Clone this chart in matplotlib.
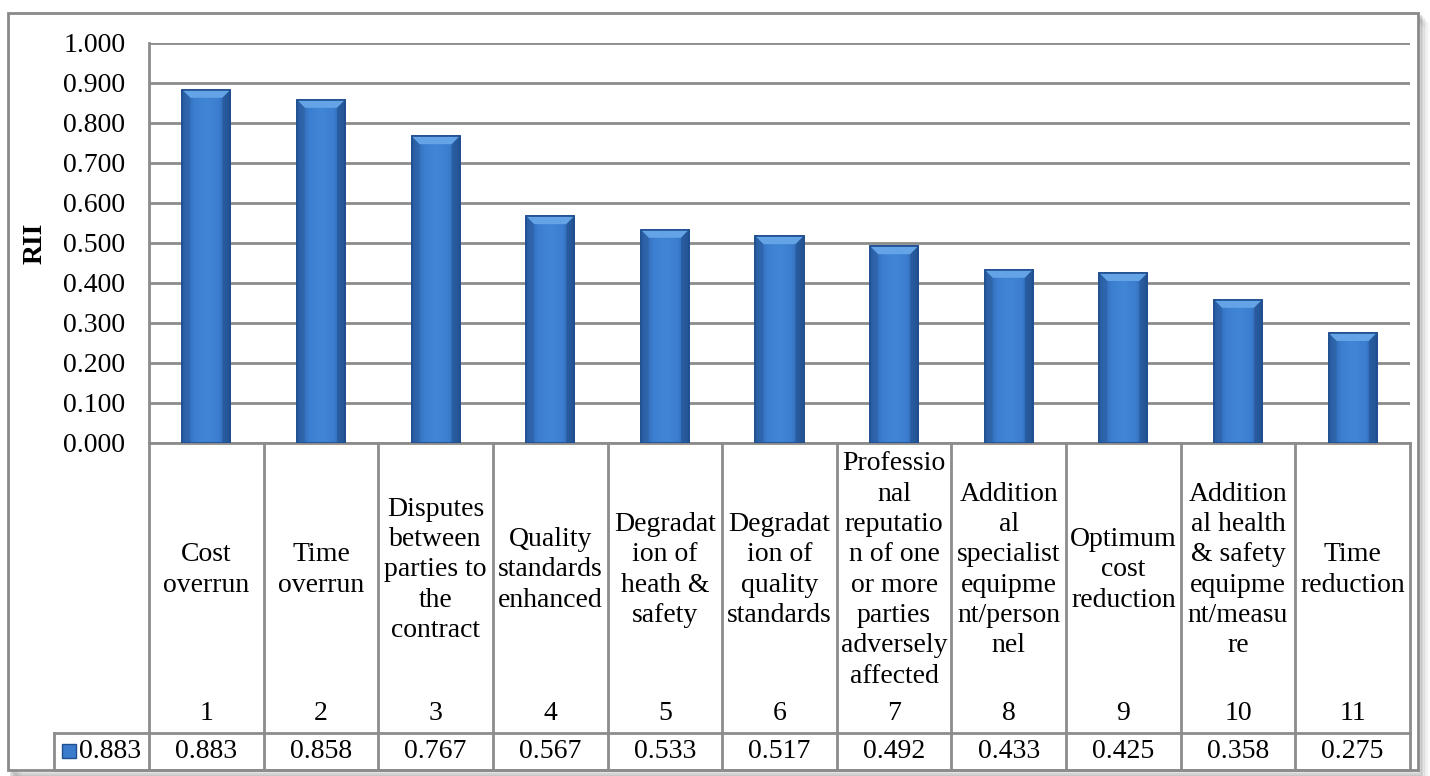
import numpy as np
import matplotlib.pyplot as plt
from matplotlib.patches import Rectangle, Polygon
from matplotlib.colors import LinearSegmentedColormap

plt.rcParams['font.family'] = ['Liberation Serif', 'DejaVu Serif']

# ---------------------------------------------------------------
# Data
# ---------------------------------------------------------------
ranks = ['1', '2', '3', '4', '5', '6', '7', '8', '9', '10', '11']
factors = [
    "Cost\noverrun",
    "Time\noverrun",
    "Disputes\nbetween\nparties to\nthe\ncontract",
    "Quality\nstandards\nenhanced",
    "Degradat\nion of\nheath &\nsafety",
    "Degradat\nion of\nquality\nstandards",
    "Professio\nnal\nreputatio\nn of one\nor more\nparties\nadversely\naffected",
    "Addition\nal\nspecialist\nequipme\nnt/person\nnel",
    "Optimum\ncost\nreduction",
    "Addition\nal health\n& safety\nequipme\nnt/measu\nre",
    "Time\nreduction",
]
rii = [0.883, 0.858, 0.767, 0.567, 0.533, 0.517, 0.492, 0.433, 0.425, 0.358, 0.275]
series_name = "0.883"

W, H = 1430, 776
FS = 20
GRID = '#8c8c8c'

fig = plt.figure(figsize=(W / 100, H / 100), dpi=100)
fig.patch.set_facecolor('white')

# chart frame with a soft drop shadow
for i, a in enumerate([0.10, 0.08, 0.06, 0.04, 0.03, 0.02]):
    off = (i + 1) * 1.6
    fig.patches.append(Rectangle(((10 + off) / W, (776 - 772 - off) / H),
                                 1408 / W, 757 / H, transform=fig.transFigure,
                                 facecolor='none', edgecolor='black', alpha=a,
                                 lw=3, zorder=-3))
fig.patches.append(Rectangle((8 / W, (776 - 770) / H), 1410 / W, 757 / H,
                             transform=fig.transFigure, facecolor='white',
                             edgecolor='#8a8a8a', lw=2, zorder=-2))

left, right, top, bottom = 149, 1410, 43, 443
ax = fig.add_axes([left / W, 1 - bottom / H, (right - left) / W, (bottom - top) / H])
ax.set_facecolor('none')

n = len(rii)
x = np.arange(n)
bw = 0.42

bars = ax.bar(x, rii, width=bw, color='#3b7bcb', edgecolor='#1f4f8f', lw=1.2, zorder=3)

# shaded bars: horizontal gradient plus a bevelled top
cmap = LinearSegmentedColormap.from_list('bar', ['#2a5fa6', '#3c7ecf', '#4186d6', '#3c7ecf', '#285a9e'])
grad = np.linspace(0, 1, 64).reshape(1, -1)
bx = 0.07
by = 0.02
for b in bars:
    x0, w, h = b.get_x(), b.get_width(), b.get_height()
    im = ax.imshow(grad, extent=[x0, x0 + w, 0, h], aspect='auto', cmap=cmap,
                   zorder=3.1, interpolation='bicubic')
    im.set_clip_path(b)
    ax.add_patch(Polygon([(x0, h), (x0 + w, h), (x0 + w - bx, h - by), (x0 + bx, h - by)],
                         closed=True, facecolor='#64a3e6', edgecolor='none', zorder=3.2))
    ax.add_patch(Polygon([(x0, h), (x0 + bx, h - by), (x0 + bx, 0), (x0, 0)],
                         closed=True, facecolor='#2a5c9e', edgecolor='none', alpha=0.45, zorder=3.2))
    ax.add_patch(Polygon([(x0 + w, h), (x0 + w - bx, h - by), (x0 + w - bx, 0), (x0 + w, 0)],
                         closed=True, facecolor='#1f4c88', edgecolor='none', alpha=0.5, zorder=3.2))
    ax.add_patch(Rectangle((x0, 0), w, h, facecolor='none', edgecolor='#1f4f8f', lw=1.2, zorder=3.3))

ax.set_xlim(-0.5, n - 0.5)
ax.set_ylim(0, 1.0)
ax.set_yticks(np.arange(0, 1.01, 0.1))
ax.set_yticklabels([f"{v:.3f}" for v in np.arange(0, 1.01, 0.1)], fontsize=FS)
ax.tick_params(axis='y', length=0, pad=17)
ax.set_xticks([])
ax.grid(axis='y', color=GRID, lw=2, zorder=1)
for s in ['top', 'right', 'bottom']:
    ax.spines[s].set_visible(False)
ax.spines['left'].set_color(GRID)
ax.spines['left'].set_linewidth(2)
fig.text(35 / W, 1 - 243 / H, 'RII', fontsize=FS, fontweight='bold', rotation=90,
         ha='center', va='center')

# data table beneath the plot
tr = ax.get_xaxis_transform()
ph = bottom - top
y_row = -(733 - bottom) / ph
y_end = -(770 - bottom) / ph
line_kw = dict(color=GRID, lw=2, clip_on=False, transform=tr, zorder=2)

ax.plot([-0.5, n - 0.5], [0, 0], **line_kw)
for xb in np.arange(-0.5, n, 1.0):
    ax.plot([xb, xb], [0, y_end], **line_kw)

legend_left = -0.5 - (149 - 54) / ((right - left) / n)
ax.plot([legend_left, n - 0.5], [y_row, y_row], **line_kw)
ax.plot([legend_left, n - 0.5], [y_end, y_end], **line_kw)
ax.plot([legend_left, legend_left], [y_row, y_end], **line_kw)

for i in range(n):
    ax.text(x[i], -(570 - bottom) / ph, factors[i], transform=tr, ha='center',
            va='center', fontsize=FS, linespacing=1.28, clip_on=False)
    ax.text(x[i], -(713 - bottom) / ph, ranks[i], transform=tr, ha='center',
            va='center', fontsize=FS, clip_on=False)
    ax.text(x[i], -(752 - bottom) / ph, f"{rii[i]:.3f}", transform=tr, ha='center',
            va='center', fontsize=FS, clip_on=False)

# legend key in the table's first cell
fig.patches.append(Rectangle((62 / W, 1 - 758 / H), 14 / W, 14 / H, transform=fig.transFigure,
                             facecolor='#3b7bcb', edgecolor='#1f4f8f', lw=1, zorder=5))
fig.text(79 / W, 1 - 752 / H, series_name, fontsize=FS, ha='left', va='center')

fig.savefig('out.png', dpi=100)
